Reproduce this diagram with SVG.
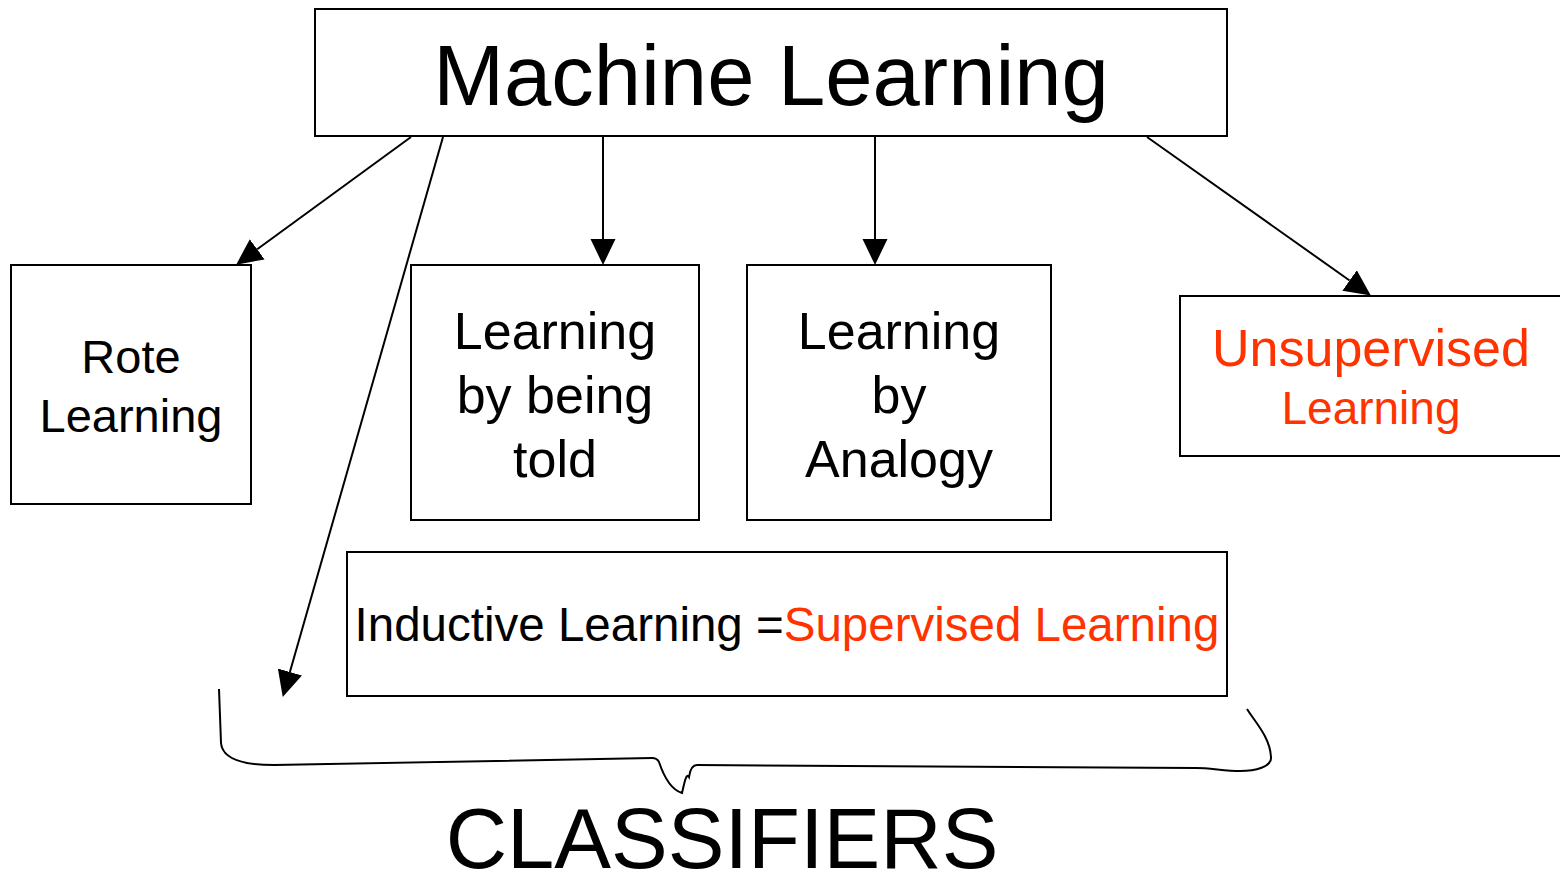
<svg xmlns="http://www.w3.org/2000/svg" width="1560" height="877" viewBox="0 0 1560 877">
  <style>
    .box { fill: #fff; stroke: #000; stroke-width: 2; }
    .t { font-family: "Liberation Sans", Arial, sans-serif; fill: #000; text-anchor: middle; }
    .red { fill: #ff3300; }
    .conn { stroke: #000; stroke-width: 2; fill: none; }
  </style>
  <defs>
    <marker id="arrow" viewBox="0 -13 26 26" markerWidth="26" markerHeight="26" refX="0" refY="0" orient="auto" markerUnits="userSpaceOnUse">
      <path d="M0,-12.5 L26,0 L0,12.5 z" fill="#000"/>
    </marker>
  </defs>

  <rect width="1560" height="877" fill="#fff"/>

  <g id="machine-learning">
    <rect class="box" x="315" y="9" width="912" height="127"/>
    <text class="t" x="771" y="105" font-size="85">Machine Learning</text>
  </g>

  <g id="rote-learning">
    <rect class="box" x="11" y="265" width="240" height="239"/>
    <text class="t" x="131" y="373" font-size="47">Rote</text>
    <text class="t" x="131" y="432" font-size="47">Learning</text>
  </g>

  <g id="learning-by-being-told">
    <rect class="box" x="411" y="265" width="288" height="255"/>
    <text class="t" x="555" y="349" font-size="52">Learning</text>
    <text class="t" x="555" y="413" font-size="52">by being</text>
    <text class="t" x="555" y="477" font-size="52">told</text>
  </g>

  <g id="learning-by-analogy">
    <rect class="box" x="747" y="265" width="304" height="255"/>
    <text class="t" x="899" y="349" font-size="52">Learning</text>
    <text class="t" x="899" y="413" font-size="52">by</text>
    <text class="t" x="899" y="477" font-size="52">Analogy</text>
  </g>

  <g id="unsupervised-learning">
    <rect class="box" x="1180" y="296" width="390" height="160"/>
    <text class="t red" x="1371" y="366" font-size="52">Unsupervised</text>
    <text class="t red" x="1371" y="424" font-size="46">Learning</text>
  </g>

  <g id="inductive-learning">
    <rect class="box" x="347" y="552" width="880" height="144"/>
    <text class="t" x="787" y="641" font-size="47.5">Inductive Learning =<tspan class="red">Supervised Learning</tspan></text>
  </g>

  <g id="classifiers">
    <path class="conn" d="M219,689 L221,743 C222,755 235,765 274,765 L652,758 C656,758 658,760 659,762 C664,777 672,790 682,793 C684,785 686,772 689,777 C690,770 693,765 697,765 L1196,768 C1210,768 1225,771 1240,771 C1255,771 1272,767 1271,757 C1270,737 1255,722 1247,709"/>
    <text class="t" x="722" y="868" font-size="85">CLASSIFIERS</text>
  </g>

  <g id="connectors">
    <line class="conn" x1="411" y1="137" x2="257.2" y2="249.3" marker-end="url(#arrow)"/>
    <line class="conn" x1="443" y1="137" x2="289.9" y2="672" marker-end="url(#arrow)"/>
    <line class="conn" x1="603" y1="137" x2="603" y2="239" marker-end="url(#arrow)"/>
    <line class="conn" x1="875" y1="137" x2="875" y2="239" marker-end="url(#arrow)"/>
    <line class="conn" x1="1147" y1="137" x2="1349.6" y2="280.5" marker-end="url(#arrow)"/>
  </g>
</svg>
